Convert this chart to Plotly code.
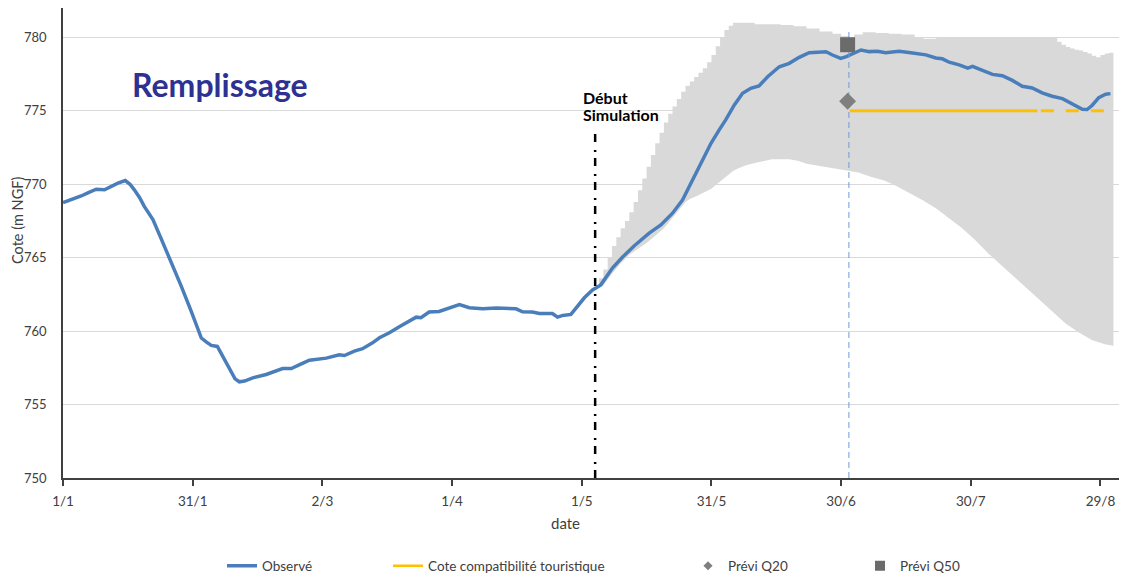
import pandas as pd
import plotly.graph_objects as go

# ---------------- data (days counted from 1 January) ----------------
base_date = "2019-01-01"

obs_day = [0, 2, 4.2, 6, 7.7, 9.6, 11, 12.7, 14.4, 15.5, 16.5, 17.7, 18.8, 20.8, 22.7, 24.6,
           27.3, 29.6, 32.0, 33.2, 34.3, 35.7, 37.3, 38.9, 39.8, 40.8, 42.0, 43.9, 47.0, 50.8,
           52.8, 55.0, 57.0, 60.9, 63.9, 65.1, 67.4, 69.3, 71.6, 73.2, 75.5, 77.8, 81.7, 82.8,
           84.7, 87.0, 89.4, 91.7, 94.0, 97.1, 100.2, 102.5, 104.8, 106.3, 108.6, 110.2, 113.2,
           114.4, 115.6, 117.5, 119.0, 120.6, 122.5, 124.4, 127.1, 129.4, 132.1, 135.6, 138.3,
           141.0, 143.3, 145.2, 147.6, 149.9, 151.8, 153.3, 155.3, 157.2, 159.1, 161.0, 163.0,
           165.7, 168.0, 170.3, 172.6, 174.9, 176.5, 178.0, 179.9, 181.2, 182.7, 184.6, 186.5,
           188.4, 190.3, 193.4, 196.1, 199.6, 201.9, 203.4, 205.0, 207.3, 209.3, 210.4, 212.7,
           215.0, 217.3, 219.6, 221.9, 224.2, 226.5, 228.8, 231.2, 233.5, 235.8, 236.9, 238.1,
           239.6, 241.2, 242.3]
obs_val = [768.75, 768.95, 769.2, 769.45, 769.66, 769.62, 769.85, 770.07, 770.25, 770.0, 769.62,
           769.1, 768.49, 767.6, 766.3, 765.0, 763.1, 761.4, 759.53, 759.25, 759.03, 758.96,
           758.13, 757.2, 756.75, 756.55, 756.6, 756.82, 757.05, 757.45, 757.45, 757.75, 758.02,
           758.16, 758.39, 758.34, 758.64, 758.80, 759.20, 759.55, 759.89, 760.30, 760.95, 760.91,
           761.30, 761.34, 761.59, 761.80, 761.59, 761.52, 761.57, 761.52, 761.52, 761.32, 761.30,
           761.20, 761.20, 760.95, 761.07, 761.14, 761.66, 762.27, 762.80, 763.15, 764.29, 765.03,
           765.80, 766.67, 767.23, 768.03, 768.93, 770.07, 771.43, 772.79, 773.70, 774.38, 775.40,
           776.19, 776.53, 776.69, 777.32, 778.00, 778.23, 778.64, 778.96, 778.98, 779.02, 778.80,
           778.57, 778.69, 778.87, 779.14, 779.03, 779.05, 778.95, 779.05, 778.96, 778.81, 778.60,
           778.54, 778.31, 778.13, 777.91, 778.02, 777.75, 777.48, 777.39, 777.07, 776.67, 776.55,
           776.22, 775.99, 775.83, 775.45, 775.11, 775.09, 775.38, 775.90, 776.13, 776.17]

band_up_day = list(range(123, 157)) + [158, 160, 163, 166, 169, 172, 175, 178, 180, 182, 183, 185,
                                       188, 191, 194, 197, 199, 202, 205, 210, 215, 220, 225, 229,
                                       230, 231, 232, 233, 234, 235, 236, 237, 238, 239, 240, 241,
                                       242, 243]
band_up_val = [763.0, 763.6, 764.2, 765.0, 765.8, 766.4, 767.0, 767.5, 768.1, 768.8, 769.6, 770.4,
               771.2, 772.0, 772.8, 773.5, 774.2, 774.8, 775.3, 775.8, 776.3, 776.7, 777.0, 777.3,
               777.6, 777.9, 778.3, 778.8, 779.4, 780.0, 780.5, 780.8, 781.0, 781.0,
               781.0, 780.9, 780.9, 780.85, 780.75, 780.6, 780.4, 780.25, 780.1, 780.0, 780.2,
               780.35, 780.3, 780.25, 780.2, 780.0, 779.9, 779.95, 780.0, 780.0, 780.0, 780.0,
               780.0, 780.0, 779.7, 779.5, 779.35, 779.25, 779.15, 779.1, 779.0, 778.9, 778.75,
               778.65, 778.8, 778.9, 778.95, 778.95]

band_lo_day = [123, 125, 127, 129, 131, 133, 135, 137, 139, 141, 143, 144, 145, 146, 147, 148,
               149, 150, 151, 152, 153, 154, 155, 156, 157, 158, 160, 162, 164, 168, 170, 172,
               175, 178, 181, 184, 187, 190, 193, 196, 199, 202, 205, 208, 211, 214, 217, 220,
               223, 226, 229, 232, 235, 238, 241, 243]
band_lo_val = [762.8, 763.1, 763.9, 764.6, 765.2, 765.6, 766.0, 766.5, 767.0, 767.7, 768.4, 768.8,
               769.0, 769.1, 769.25, 769.4, 769.55, 769.7, 769.95, 770.2, 770.45, 770.7, 770.9,
               771.05, 771.2, 771.3, 771.45, 771.6, 771.7, 771.7, 771.6, 771.4, 771.25, 771.15,
               771.0, 770.8, 770.5, 770.25, 769.85, 769.4, 768.9, 768.35, 767.7, 767.0, 766.2,
               765.3, 764.5, 763.7, 762.9, 762.1, 761.3, 760.5, 759.9, 759.4, 759.1, 759.0]

cote_day_solid = [182, 225.4]
cote_day_dash = [226.2, 241.3]
cote_val = [775, 775]

sim_start_day = [123.1, 123.1]
sim_start_val = [750, 773.6]
forecast_line_day = [181.8, 181.8]
forecast_line_val = [750, 780.5]

q20_day = [181.5]
q20_val = [775.65]
q50_day = [181.5]
q50_val = [779.5]

tick_days = [0, 30, 60, 90, 120, 150, 180, 210, 240]
tick_labels = ["1/1", "31/1", "2/3", "1/4", "1/5", "31/5", "30/6", "30/7", "29/8"]
x_end_day = 245.9
y_ticks = [750, 755, 760, 765, 770, 775, 780]

# ---------------- helpers ----------------
b0 = pd.Timestamp(base_date)


def to_dates(days):
    return [b0 + pd.Timedelta(days=float(d)) for d in days]


OFF = 8                      # page body margin of the html page
W, H = 1127 - OFF, 576 - OFF
ML, MR, MT, MB = 55, 1, 0, 98
PW, PH = W - ML - MR, H - MT - MB


def px(X):                   # screen pixel -> paper x
    return (X - OFF - ML) / PW


def py(Y):                   # screen pixel -> paper y
    return (H - MB - (Y - OFF)) / PH


def cx(X):                   # screen pixel -> container x
    return (X - OFF) / W


def cy(Y):                   # screen pixel -> container y
    return (H - (Y - OFF)) / H


FONT = "Lato"
TXT = "#404040"
BLUE = "#4A7EBB"
YEL = "#FFC000"
BAND = "#D9D9D9"

fig = go.Figure()

# band
fig.add_trace(go.Scatter(x=to_dates(band_lo_day), y=band_lo_val, mode="lines",
                         line=dict(width=0, color=BAND),
                         showlegend=False, hoverinfo="skip"))
fig.add_trace(go.Scatter(x=to_dates(band_up_day), y=band_up_val, mode="lines",
                         line=dict(width=0, shape="hv", color=BAND),
                         fill="tonexty", fillcolor=BAND,
                         showlegend=False, hoverinfo="skip"))

# cote compatibilité touristique
fig.add_trace(go.Scatter(x=to_dates(cote_day_solid), y=cote_val, mode="lines",
                         line=dict(color=YEL, width=3), showlegend=False))
fig.add_trace(go.Scatter(x=to_dates(cote_day_dash), y=cote_val, mode="lines",
                         line=dict(color=YEL, width=3, dash="13px,12px"), showlegend=False))

# observed
fig.add_trace(go.Scatter(x=to_dates(obs_day), y=obs_val, mode="lines",
                         line=dict(color=BLUE, width=3.5), showlegend=False))

# vertical lines
fig.add_trace(go.Scatter(x=to_dates(sim_start_day), y=sim_start_val, mode="lines",
                         line=dict(color="black", width=2.5, dash="8px,6px,2px,8px"),
                         showlegend=False, hoverinfo="skip"))
fig.add_trace(go.Scatter(x=to_dates(forecast_line_day), y=forecast_line_val, mode="lines",
                         line=dict(color="#6E9BDB", width=1, dash="6px,4px"),
                         showlegend=False, hoverinfo="skip"))

# markers
fig.add_trace(go.Scatter(x=to_dates(q20_day), y=q20_val, mode="markers",
                         marker=dict(symbol="diamond", size=13, color="#7F7F7F"),
                         showlegend=False))
fig.add_trace(go.Scatter(x=to_dates(q50_day), y=q50_val, mode="markers",
                         marker=dict(symbol="square", size=15, color="#6B6B6B"),
                         showlegend=False))

# legend entries
fig.add_trace(go.Scatter(x=[None], y=[None], mode="lines", name="Observé",
                         line=dict(color=BLUE, width=3.5), legend="legend"))
fig.add_trace(go.Scatter(x=[None], y=[None], mode="lines", name="Cote compatibilité touristique",
                         line=dict(color=YEL, width=2.5), legend="legend2"))
fig.add_trace(go.Scatter(x=[None], y=[None], mode="markers", name="Prévi Q20",
                         marker=dict(symbol="diamond", size=7, color="#7F7F7F"), legend="legend3"))
fig.add_trace(go.Scatter(x=[None], y=[None], mode="markers", name="Prévi Q50",
                         marker=dict(symbol="square", size=10, color="#6B6B6B"), legend="legend4"))

leg_common = dict(orientation="h", xref="container", yref="container", yanchor="middle",
                  y=cy(566), xanchor="left", bgcolor="rgba(0,0,0,0)",
                  font=dict(family=FONT, size=13.5, color=TXT))

fig.update_layout(
    width=W, height=H,
    margin=dict(l=ML, r=MR, t=MT, b=MB, autoexpand=False),
    paper_bgcolor="white", plot_bgcolor="white",
    font=dict(family=FONT, size=13, color=TXT),
    showlegend=True,
    legend=dict(x=cx(222), **leg_common),
    legend2=dict(x=cx(388), **leg_common),
    legend3=dict(x=cx(688), **leg_common),
    legend4=dict(x=cx(860), **leg_common),
    xaxis=dict(range=to_dates([0, x_end_day]), tickvals=to_dates(tick_days), ticktext=tick_labels,
               automargin=False,
               showgrid=False, zeroline=False, showline=True, linecolor=TXT, linewidth=2,
               ticks="outside", ticklen=6, tickwidth=1.5, tickcolor=TXT, ticklabelstandoff=4,
               tickfont=dict(family=FONT, size=13.5, color=TXT)),
    yaxis=dict(range=[750, 782], tickvals=y_ticks, showgrid=True, gridcolor="#D9D9D9", gridwidth=1,
               automargin=False,
               zeroline=False, showline=True, linecolor=TXT, linewidth=1.5, ticks="",
               ticklabelstandoff=12, tickfont=dict(family=FONT, size=13, color=TXT)),
    annotations=[
        dict(text="<b>Remplissage</b>", x=px(220), y=py(84), xref="paper", yref="paper",
             xanchor="center", yanchor="middle", showarrow=False,
             font=dict(family=FONT, size=32, color="#2E3192")),
        dict(text="<b>Début</b>", x=px(581), y=py(97), xref="paper", yref="paper",
             xanchor="left", yanchor="middle", showarrow=False,
             font=dict(family=FONT, size=16, color="black")),
        dict(text="<b>Simulation</b>", x=px(581), y=py(114), xref="paper", yref="paper",
             xanchor="left", yanchor="middle", showarrow=False,
             font=dict(family=FONT, size=16, color="black")),
        dict(text="date", x=px(565), y=py(523), xref="paper", yref="paper",
             xanchor="center", yanchor="middle", showarrow=False,
             font=dict(family=FONT, size=15, color=TXT)),
        dict(text="Cote (m NGF)", x=px(17), y=py(221), xref="paper", yref="paper",
             xanchor="center", yanchor="middle", textangle=-90, showarrow=False,
             font=dict(family=FONT, size=14.5, color=TXT)),
    ],
)

fig.write_html("out.html")
